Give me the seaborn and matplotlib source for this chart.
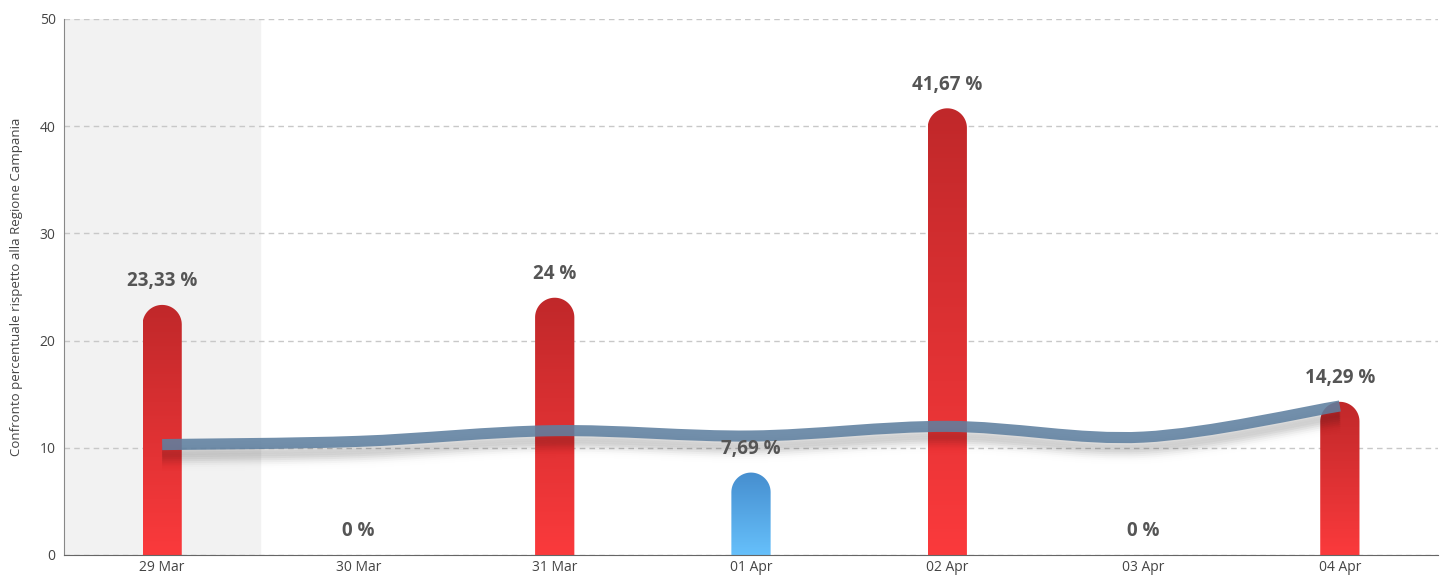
import numpy as np
import matplotlib
matplotlib.use('Agg')
import matplotlib.pyplot as plt
import seaborn as sns
from matplotlib.path import Path
from matplotlib.patches import PathPatch
from matplotlib.colors import LinearSegmentedColormap
from matplotlib.transforms import offset_copy

days = ['29 Mar', '30 Mar', '31 Mar', '01 Apr', '02 Apr', '03 Apr', '04 Apr']
values = [23.33, 0, 24, 7.69, 41.67, 0, 14.29]
trend = [10.3, 10.6, 11.6, 11.1, 12.0, 11.0, 13.9]
y_ticks = [0, 10, 20, 30, 40, 50]
y_label = 'Confronto percentuale rispetto alla Regione Campania'

sns.set_style('white')
plt.rcParams['font.family'] = ['Open Sans', 'DejaVu Sans']

fig = plt.figure(figsize=(14.5, 5.79), dpi=100)
ax = fig.add_axes([64 / 1450, 24 / 579, 1374 / 1450, 536 / 579])

sns.barplot(x=days, y=values, width=0.2, ax=ax, color='red')
bars = list(ax.patches)
ax.set_xlim(-0.5, len(days) - 0.5)
ax.set_ylim(0, 50)

# first day band
ax.axvspan(-0.5, 0.5, color='#f2f2f2', zorder=0)

ax.set_yticks(y_ticks)
ax.yaxis.grid(True, linestyle=(0, (4, 3)), color='#c8c8c8', linewidth=1)
ax.set_axisbelow(True)
for s in ['top', 'right']:
    ax.spines[s].set_visible(False)
ax.spines['left'].set_color('#888888')
ax.spines['bottom'].set_color('#666666')
ax.tick_params(axis='both', length=0, labelsize=10, labelcolor='#444444')
ax.tick_params(axis='y', pad=6)
ax.set_ylabel(y_label, fontsize=9.5, color='#444444', labelpad=12)
ax.set_xlabel('')

# pixel aspect for round caps
p0 = ax.transData.transform((0, 0))
p1 = ax.transData.transform((1, 1))
px_x = p1[0] - p0[0]
px_y = p1[1] - p0[1]

red_cmap = LinearSegmentedColormap.from_list('r', ['#fb3a3c', '#c0282a'])
blue_cmap = LinearSegmentedColormap.from_list('b', ['#66c0fb', '#468ecf'])

for i, p in enumerate(bars):
    x0, w, h = p.get_x(), p.get_width(), p.get_height()
    p.set_visible(False)
    cx = x0 + w / 2
    lbl = f'{values[i]:g}'.replace('.', ',') + ' %'
    ax.annotate(lbl, (cx, h), xytext=(0, 17), textcoords='offset points',
                ha='center', va='center', fontsize=13.5, fontweight='bold',
                color='#555555', zorder=5)
    if h <= 0:
        continue
    rx = w / 2
    ry = rx * px_x / px_y
    t = np.linspace(np.pi, 0, 40)
    verts = [(x0, 0), (x0, h - ry)]
    verts += list(zip(cx + rx * np.cos(t), h - ry + ry * np.sin(t)))
    verts += [(x0 + w, 0), (x0, 0)]
    patch = PathPatch(Path(verts), facecolor='none', edgecolor='none')
    ax.add_patch(patch)
    cmap = blue_cmap if values[i] < trend[i] else red_cmap
    grad = np.linspace(0, 1, 256).reshape(-1, 1)
    im = ax.imshow(grad, cmap=cmap, origin='lower', aspect='auto',
                   extent=(x0, x0 + w, 0, h), zorder=2)
    im.set_clip_path(patch)

ax.set_xlim(-0.5, len(days) - 0.5)
ax.set_ylim(0, 50)

# smooth trend line (Catmull-Rom as cubic Bezier)
pts = np.column_stack([np.arange(len(trend)), trend])
ext = np.vstack([pts[0], pts, pts[-1]])
verts = [tuple(pts[0])]
codes = [Path.MOVETO]
for k in range(1, len(ext) - 2):
    a, b, c, d = ext[k - 1], ext[k], ext[k + 1], ext[k + 2]
    c1 = b + (c - a) / 6
    c2 = c - (d - b) / 6
    verts += [tuple(c1), tuple(c2), tuple(c)]
    codes += [Path.CURVE4] * 3
tpath = Path(verts, codes)

for dy in range(2, 26, 2):
    a = 0.045 * np.exp(-((dy - 10) / 7) ** 2)
    tr = offset_copy(ax.transData, fig=fig, x=0, y=-dy, units='dots')
    ax.add_patch(PathPatch(tpath, fill=False, edgecolor='#000000', alpha=a,
                           linewidth=7, transform=tr, zorder=3))

ax.add_patch(PathPatch(tpath, fill=False, edgecolor='#5f80a0', alpha=0.88,
                       linewidth=8, capstyle='butt', zorder=4))

fig.savefig('out.png', dpi=100)
